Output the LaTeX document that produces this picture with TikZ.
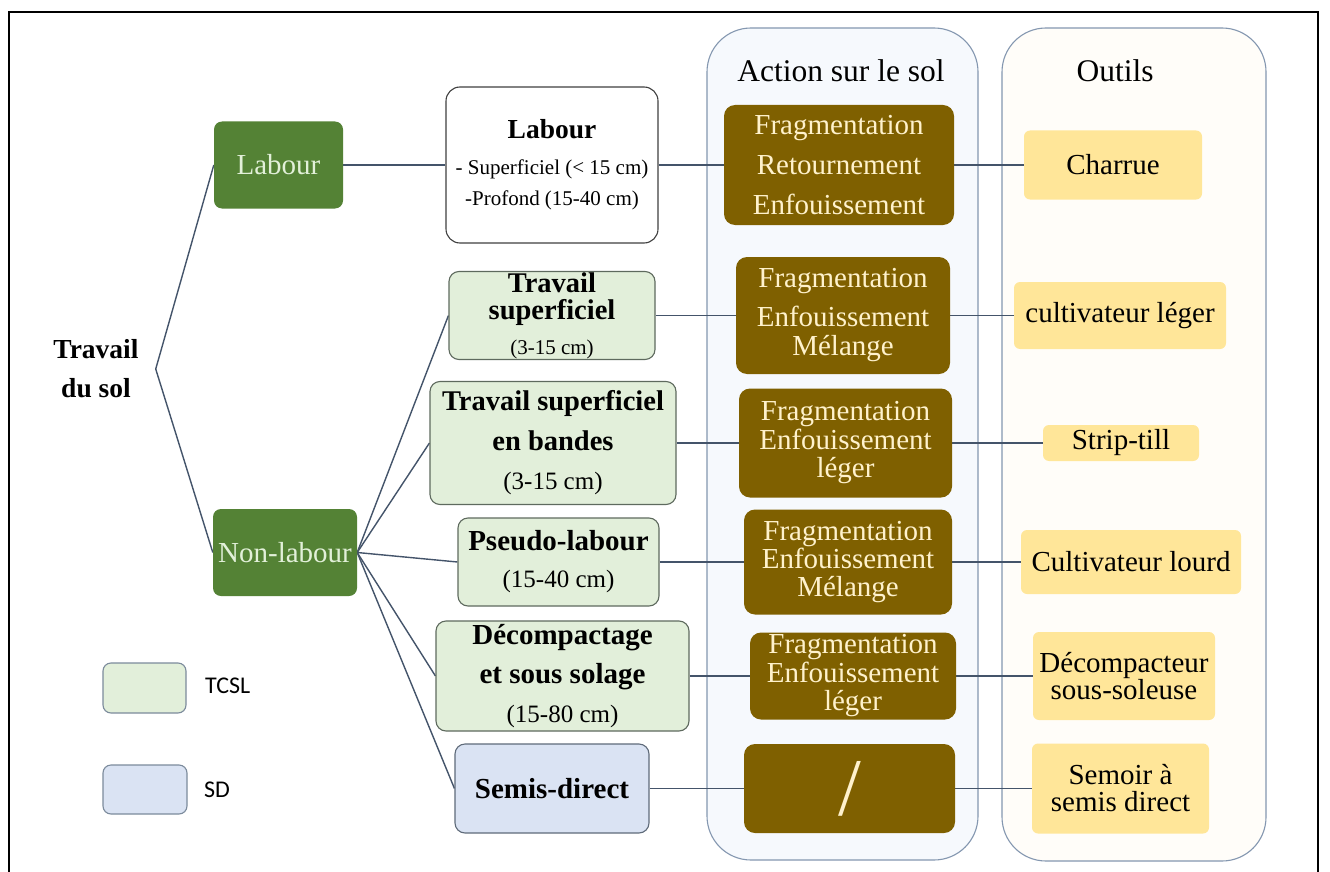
\documentclass[tikz,border=0pt]{standalone}
\usepackage{fontspec}
\setmainfont{Liberation Serif}
\newfontfamily\legendfont{Carlito}
\usetikzlibrary{backgrounds}
\definecolor{connc}{HTML}{44546A}
\definecolor{colc}{HTML}{8497B0}
\definecolor{colAfill}{HTML}{F6F9FD}
\definecolor{colOfill}{HTML}{FFFDF9}
\definecolor{dgreen}{HTML}{548235}
\definecolor{dgtext}{HTML}{E2F0D9}
\definecolor{lgreen}{HTML}{E2EFDA}
\definecolor{lgborder}{HTML}{5E6A5E}
\definecolor{whborder}{HTML}{404040}
\definecolor{lblue}{HTML}{DAE3F3}
\definecolor{sdborder}{HTML}{5F6B7A}
\definecolor{legborder}{HTML}{7C8B9C}
\definecolor{brownbox}{HTML}{7F6000}
\definecolor{brtext}{HTML}{FFF2CC}
\definecolor{yel}{HTML}{FFE699}
\newcommand{\fsz}[2]{\fontsize{#1}{#2}\selectfont}
\begin{document}
\begin{tikzpicture}[x=1pt,y=-1pt,
  conn/.style={draw=connc,line width=1.4pt},
  colbox/.style={draw=colc,line width=1.1pt,rounded corners=44pt},
  sz/.style 2 args={minimum width=#1pt,minimum height=#2pt},
  dgbox/.style={fill=dgreen,text=dgtext,rounded corners=8pt,inner sep=0pt,font=\fsz{29}{29}},
  whbox/.style={fill=white,draw=whborder,line width=1.1pt,rounded corners=14pt,inner sep=0pt,align=center},
  lgbox/.style={fill=lgreen,draw=lgborder,line width=1.1pt,rounded corners=10pt,inner sep=0pt,align=center},
  sdbox/.style={fill=lblue,draw=sdborder,line width=1.1pt,rounded corners=10pt,inner sep=0pt,align=center},
  brbox/.style={fill=brownbox,text=brtext,rounded corners=11pt,inner sep=0pt,align=center},
  ylbox/.style={fill=yel,rounded corners=6pt,inner sep=0pt,align=center,font=\fsz{29}{27}},
  legbox/.style={draw=legborder,line width=1.1pt,rounded corners=8pt},
  legtext/.style={anchor=base west,inner sep=0pt,font=\legendfont\fsz{24}{24}},
  header/.style={anchor=base,inner sep=0pt,font=\fsz{31.5}{31.5}}
]
\useasboundingbox (0,0) rectangle (1330,872);

% root
\node[align=center,inner xsep=17pt,inner ysep=0pt,font=\fsz{27.5}{39}\bfseries] (root) at (96,369) {Travail\\du sol};

% level 1
\node[dgbox,sz={129}{87}] (labg) at (278.5,165) {Labour};
\node[dgbox,sz={144}{87}] (nonlab) at (285,552.5) {Non-labour};

% level 2
\node[whbox,sz={212}{156},font=\fsz{21}{31}] (whl) at (552,165)
  {{\fsz{27.5}{31}\bfseries Labour}\\[5pt]- Superficiel (< 15 cm)\\-Profond (15-40 cm)};
\node[lgbox,sz={206}{88},font=\fsz{28.5}{27}\bfseries] (ts) at (552,315.5)
  {Travail\\superficiel\\[8pt]{\mdseries\fsz{21}{27}(3-15 cm)}};
\node[lgbox,sz={246}{123},font=\fsz{28.5}{39.5}\bfseries] (tsb) at (553,443)
  {Travail superficiel\\en bandes\\{\mdseries\fsz{25}{39.5}(3-15 cm)}};
\node[lgbox,sz={201}{88},font=\fsz{29}{37}\bfseries] (pseudo) at (558.5,562)
  {Pseudo-labour\\{\mdseries\fsz{25}{37}(15-40 cm)}};
\node[lgbox,sz={253}{110},font=\fsz{29}{39}\bfseries] (decomp) at (562.5,676)
  {Décompactage\\et sous solage\\{\mdseries\fsz{25}{39}(15-80 cm)}};
\node[sdbox,sz={194}{89},font=\fsz{29}{29}\bfseries] (semis) at (552,788.5) {Semis-direct};

% actions
\node[brbox,sz={230}{120},font=\fsz{29}{40}] (b1) at (839,165)
  {Fragmentation\\Retournement\\Enfouissement};
\node[brbox,sz={214}{117},font=\fsz{29}{29}] (b2) at (843,315.5)
  {Fragmentation\\[10pt]Enfouissement\\Mélange};
\node[brbox,sz={213}{109},font=\fsz{29}{28.5}] (b3) at (845.5,443)
  {Fragmentation\\Enfouissement\\léger};
\node[brbox,sz={208}{105},font=\fsz{29}{28}] (b4) at (848,562)
  {Fragmentation\\Enfouissement\\Mélange};
\node[brbox,sz={206}{87},font=\fsz{29}{28.5}] (b5) at (853,676)
  {Fragmentation\\Enfouissement\\léger};
\node[brbox,sz={211}{89},font=\fsz{82}{82}] (b6) at (849.5,788.5) {/};

% tools
\node[ylbox,sz={178}{69}] (t1) at (1113,165) {Charrue};
\node[ylbox,sz={212}{67}] (t2) at (1120,315.5) {cultivateur léger};
\node[ylbox,sz={156}{36}] (t3) at (1121,443) {Strip-till};
\node[ylbox,sz={220}{64}] (t4) at (1131,562) {Cultivateur lourd};
\node[ylbox,sz={182}{88}] (t5) at (1124,676) {Décompacteur\\sous-soleuse};
\node[ylbox,sz={177}{90}] (t6) at (1120.5,788.5) {Semoir à\\semis direct};

% headers
\node[header] (hA) at (841,82) {Action sur le sol};
\node[header] (hO) at (1115,82) {Outils};

% legend
\node[legbox,fill=lgreen,sz={83}{50},inner sep=0pt] (legA) at (144.5,688) {};
\node[legbox,fill=lblue,sz={84}{49},inner sep=0pt] (legB) at (145,789.5) {};
\node[legtext] (legAt) at (205,693) {TCSL};
\node[legtext] (legBt) at (204,797) {SD};

\begin{scope}[on background layer]
  \fill[white] (0,0) rectangle (1330,872);
  \draw[line width=2pt] (9,872) -- (9,12) -- (1318,12) -- (1318,872);
  \draw[colbox,fill=colAfill] (707,28) rectangle (978,860);
  \draw[colbox,fill=colOfill] (1002,28) rectangle (1266,861);
  % tree connectors
  \draw[conn] (root.east) -- (labg.west);
  \draw[conn] (root.east) -- (nonlab.west);
  \draw[conn] (labg.east) -- (whl.west);
  \foreach \n in {ts,tsb,pseudo,decomp,semis}
    \draw[conn] (nonlab.east) -- (\n.west);
  % rows
  \draw[conn] (whl.east) -- (b1.west);
  \draw[conn] (b1.east) -- (t1.west);
  \draw[conn] (ts.east) -- (b2.west);
  \draw[conn] (b2.east) -- (t2.west);
  \draw[conn] (tsb.east) -- (b3.west);
  \draw[conn] (b3.east) -- (t3.west);
  \draw[conn] (pseudo.east) -- (b4.west);
  \draw[conn] (b4.east) -- (t4.west);
  \draw[conn] (decomp.east) -- (b5.west);
  \draw[conn] (b5.east) -- (t5.west);
  \draw[conn] (semis.east) -- (b6.west);
  \draw[conn] (b6.east) -- (t6.west);
\end{scope}
\end{tikzpicture}
\end{document}
